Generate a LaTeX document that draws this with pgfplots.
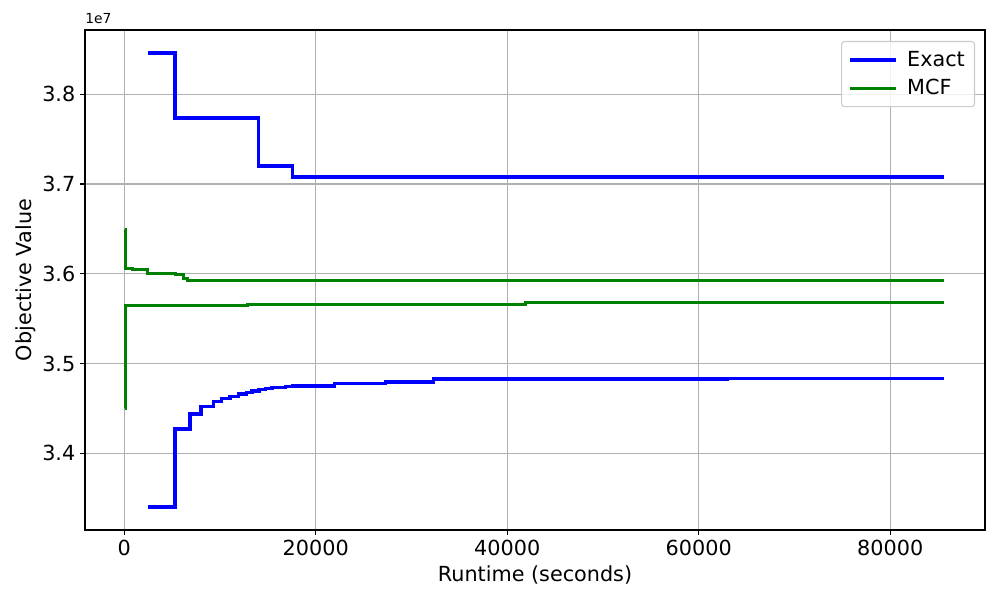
\documentclass[border=0pt]{standalone}
\usepackage{fontspec}
\setmainfont{DejaVu Sans}
\usepackage{pgfplots}
\pgfplotsset{compat=1.18}
\definecolor{mplBlue}{RGB}{0,0,255}
\definecolor{mplGreen}{RGB}{0,128,0}
\definecolor{mplGrid}{RGB}{176,176,176}
\definecolor{mplLegend}{RGB}{204,204,204}

% step values, y in units of 1e7
\pgfplotstableread{
x y
2450 3.8459
5320 3.7735
14000 3.7203
17600 3.7080
85600 3.7080
}\exactupper
\pgfplotstableread{
x y
2450 3.3401
5320 3.4268
6850 3.4438
8000 3.4524
9300 3.4575
10150 3.4609
11050 3.4635
11950 3.4658
12750 3.4680
13350 3.4695
14050 3.4709
14750 3.4720
15450 3.4731
16850 3.4742
17550 3.4752
21950 3.4780
27300 3.4795
32300 3.4828
63000 3.4836
85600 3.4836
}\exactlower
\pgfplotstableread{
x y
60 3.6489
150 3.6062
850 3.6043
2450 3.6007
5350 3.5996
6150 3.5951
6650 3.5921
85600 3.5921
}\mcfupper
\pgfplotstableread{
x y
60 3.4502
150 3.5642
12850 3.5662
41900 3.5677
85600 3.5677
}\mcflower

\begin{document}
\begin{tikzpicture}
\path[use as bounding box] (-0.85in,-0.70in) rectangle (9.15in,5.30in);
\begin{axis}[
  scale only axis,
  width=9in, height=5in,
  xmin=-4100, xmax=89900,
  ymin=3.3145, ymax=3.8716,
  xtick={0,20000,40000,60000,80000},
  ytick={3.4,3.5,3.6,3.7,3.8},
  scaled ticks=false,
  /pgf/number format/assume math mode=true,
  x tick label style={/pgf/number format/1000 sep={}},
  y tick label style={/pgf/number format/.cd, fixed, fixed zerofill, precision=1},
  ticklabel style={font=\fontsize{15}{18}\selectfont},
  tick align=outside,
  major tick length=3.5pt,
  tick style={black, line width=0.8pt},
  axis line style={line width=0.8pt},
  xtick pos=bottom, ytick pos=left,
  grid=major,
  major grid style={draw=mplGrid, line width=0.8pt},
  clip mode=individual,
  xlabel={Runtime (seconds)},
  ylabel={Objective Value},
  label style={font=\fontsize{15}{18}\selectfont},
  xlabel style={at={(axis description cs:0.5,-0.09)}, anchor=center},
  ylabel style={at={(axis description cs:-0.066,0.5)}, anchor=center},
  legend style={at={(rel axis cs:0.989,0.978)}, anchor=north east,
    draw=mplLegend, rounded corners=2pt, fill=white, fill opacity=0.8, text opacity=1,
    font=\fontsize{15}{18}\selectfont, row sep=4pt, inner xsep=5pt, inner ysep=5pt,
    line width=0.8pt},
  legend cell align=left,
  legend image code/.code={\draw[#1] (0cm,0cm) -- (1.15cm,0cm); \path (1.33cm,0cm);},
]
\addlegendimage{mplBlue, line width=2.5pt}
\addlegendentry{Exact}
\addlegendimage{mplGreen, line width=2.2pt}
\addlegendentry{MCF}
\addplot[const plot, mplBlue, line width=2.5pt, forget plot] table {\exactupper};
\addplot[const plot, mplGreen, line width=2.2pt, forget plot] table {\mcfupper};
\addplot[const plot, mplBlue, line width=2.5pt, forget plot] table {\exactlower};
\addplot[const plot, mplGreen, line width=2.2pt, forget plot] table {\mcflower};
\node[anchor=south west, inner sep=0pt, yshift=4pt, font=\fontsize{10}{12}\selectfont] at (rel axis cs:0,1) {1e7};
\end{axis}
\end{tikzpicture}
\end{document}
